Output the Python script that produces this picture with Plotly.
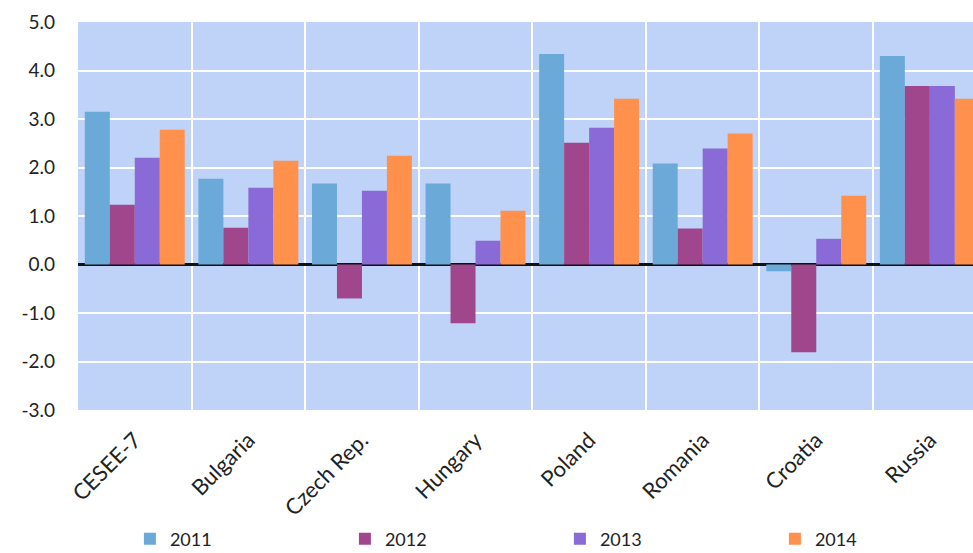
import plotly.graph_objects as go

categories = ["CESEE-7", "Bulgaria", "Czech Rep.", "Hungary", "Poland", "Romania", "Croatia", "Russia"]
years = ["2011", "2012", "2013", "2014"]
values_2011 = [3.15, 1.77, 1.67, 1.67, 4.34, 2.08, -0.14, 4.30]
values_2012 = [1.23, 0.76, -0.70, -1.21, 2.51, 0.74, -1.81, 3.68]
values_2013 = [2.20, 1.58, 1.52, 0.49, 2.82, 2.39, 0.53, 3.68]
values_2014 = [2.78, 2.14, 2.24, 1.11, 3.42, 2.70, 1.42, 3.42]
y_ticks = [5, 4, 3, 2, 1, 0, -1, -2, -3]
y_tick_labels = ["5.0", "4.0", "3.0", "2.0", "1.0", "0.0", "-1.0", "-2.0", "-3.0"]

series = [values_2011, values_2012, values_2013, values_2014]
colors = ["#6BAAD8", "#A0468C", "#8A6AD6", "#FF914D"]

fig = go.Figure()
for name, vals, col in zip(years, series, colors):
    fig.add_trace(go.Bar(x=categories, y=vals, name=name, marker=dict(color=col, line=dict(width=0))))

font_family = "Lato, 'Open Sans', sans-serif"
fig.update_layout(
    width=973,
    height=553,
    margin=dict(l=78, r=0, t=22, b=143, autoexpand=False),
    paper_bgcolor="white",
    plot_bgcolor="#BFD2F7",
    barmode="group",
    bargap=0.12,
    bargroupgap=0,
    font=dict(family=font_family, size=19, color="#222222"),
    showlegend=True,
    legend=dict(
        orientation="h",
        x=0.058, xanchor="left",
        y=-0.285, yanchor="top",
        entrywidth=170, entrywidthmode="pixels",
        itemwidth=30,
        font=dict(size=18, color="#222222"),
        bgcolor="rgba(0,0,0,0)",
    ),
)
fig.update_xaxes(
    range=[-0.5, 7.38],
    tickangle=-45,
    tickson="boundaries",
    automargin=False,
    showgrid=True, gridcolor="white", gridwidth=2,
    ticks="", showline=False, zeroline=False,
    ticklabelstandoff=12,
    tickfont=dict(size=22),
)
fig.update_yaxes(
    range=[-3, 5],
    automargin=False,
    tickvals=y_ticks, ticktext=y_tick_labels,
    showgrid=True, gridcolor="white", gridwidth=2,
    zeroline=True, zerolinecolor="#111111", zerolinewidth=2.5,
    ticks="", showline=False,
    ticklabelstandoff=22,
    tickfont=dict(size=19),
)

fig.write_html("out.html")
